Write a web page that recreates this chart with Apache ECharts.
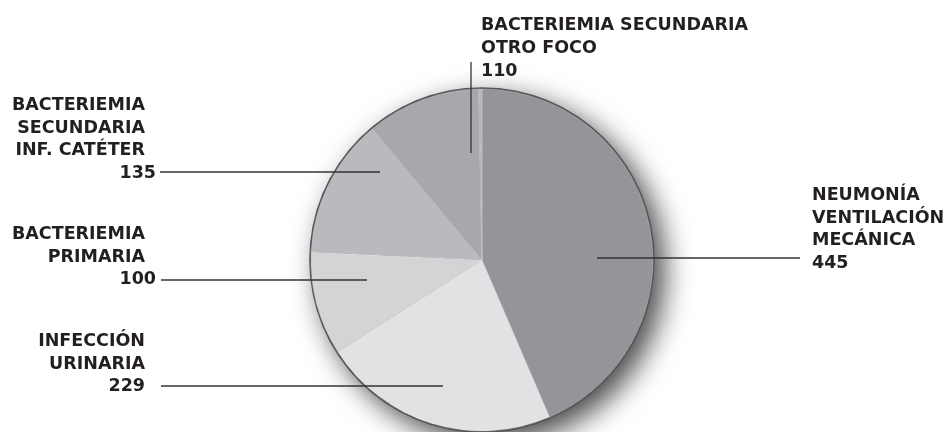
<!DOCTYPE html>
<html><head><meta charset="utf-8">
<script src="https://cdn.jsdelivr.net/npm/echarts@6/dist/echarts.min.js"></script>
<style>html,body{margin:0;padding:0;background:#fff}#c{width:949px;height:432px}</style>
</head><body><div id="c"></div>
<script>
const categories = ['NEUMONÍA VENTILACIÓN MECÁNICA','INFECCIÓN URINARIA','BACTERIEMIA PRIMARIA','BACTERIEMIA SECUNDARIA INF. CATÉTER','BACTERIEMIA SECUNDARIA OTRO FOCO',''];
const labelLines = [['NEUMONÍA','VENTILACIÓN','MECÁNICA'],['INFECCIÓN','URINARIA'],['BACTERIEMIA','PRIMARIA'],['BACTERIEMIA','SECUNDARIA','INF. CATÉTER'],['BACTERIEMIA SECUNDARIA','OTRO FOCO'],[]];
const values = [445, 229, 100, 135, 110, 3];
const colors = ['#949599','#e2e2e4','#d3d4d6','#b9babd','#a7a8ab','#b4b5b7'];

const CX = 482, CY = 260, R = 171;
const total = values.reduce((a,b)=>a+b,0);
const FONT = {fontFamily:'DejaVu Sans', fontWeight:'bold', fontSize:17.5, color:'#231f20', lineHeight:22.7};

const place = [
  {x:812, y:184, align:'left', end:[800,258], inner:[597,258]},
  {x:145, y:330, align:'right', end:[161,386], inner:[443,386], pad:0},
  {x:156, y:223, align:'right', end:[161,280], inner:[367,280], pad:11},
  {x:156, y:94, align:'right', end:[160,172], inner:[380,172], pad:11},
  {x:481, y:14.5, align:'left', end:[471,62], inner:[471,153]},
  null
];

function makeData(withLabels){
  return values.map((v,i)=>{
    const lines = labelLines[i];
    const p = place[i];
    let fmt = '';
    if (lines.length) fmt = lines.map(l=>'{n|'+l+'}').join('\n') + '\n{v|' + v + '}';
    const show = withLabels && !!lines.length;
    return {
      name: categories[i], value: v,
      itemStyle: withLabels ? {color:'rgba(0,0,0,0)', borderWidth:0} : {color:colors[i]},
      label: {show: show, formatter: fmt, align: p ? p.align : 'left',
        rich: {
          n: Object.assign({}, FONT, {padding:[0, p && p.pad ? p.pad : 0, 0, 0]}),
          v: Object.assign({}, FONT)
        }},
      labelLine: {show: show}
    };
  });
}

const chart = echarts.init(document.getElementById('c'), null, {renderer:'canvas'});
chart.setOption({
  animation:false,
  backgroundColor:'#fff',
  series:[
    {
      type:'pie', silent:true, center:[CX,CY], radius:[0,R+1.8], startAngle:90, clockwise:true,
      label:{show:false}, labelLine:{show:false},
      data:[{value:total, itemStyle:{color:'#555659', shadowBlur:28, shadowOffsetX:10, shadowOffsetY:10, shadowColor:'rgba(0,0,0,0.7)'}}],
      z:1
    },
    {
      type:'pie', silent:true, center:[CX,CY], radius:[0,R], startAngle:90, clockwise:true,
      itemStyle:{borderColor:'rgba(255,255,255,0.35)', borderWidth:0.6},
      label:{show:false}, labelLine:{show:false},
      data:makeData(false), z:2
    },
    {
      type:'pie', silent:true, center:[CX,CY], radius:[0,R], startAngle:90, clockwise:true,
      label:{position:'outside'},
      labelLine:{show:true, lineStyle:{color:'#333333', width:1.3}},
      labelLayout:function(params){
        const p = place[params.dataIndex];
        if (!p) return {};
        return {x:p.x, y:p.y, align:p.align, verticalAlign:'top',
          labelLinePoints:[p.inner, [(p.inner[0]+p.end[0])/2,(p.inner[1]+p.end[1])/2], p.end]};
      },
      data:makeData(true), z:3
    }
  ]
});
</script></body></html>
